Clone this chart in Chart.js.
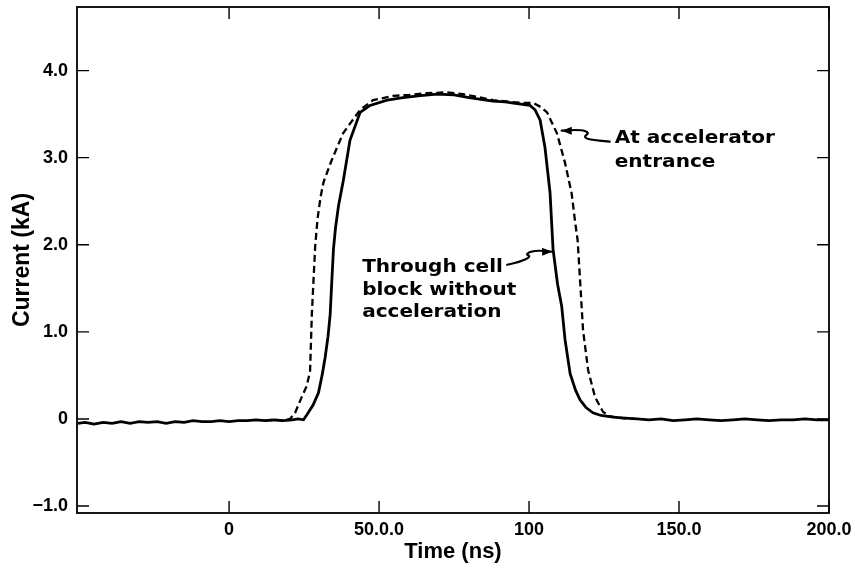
<!DOCTYPE html>
<html>
<head>
<meta charset="utf-8">
<script src="https://cdn.jsdelivr.net/npm/chart.js@4.4.1/dist/chart.umd.min.js"></script>
<style>
  html, body { margin: 0; padding: 0; background: #ffffff; }
  #wrap { width: 855px; height: 575px; }
</style>
</head>
<body>
<div id="wrap"><canvas id="c" width="855" height="575"></canvas></div>
<script>
// ---- data ----
const xTicks = [0, 50, 100, 150, 200];
const xTickLabels = ['0', '50.0.0', '100', '150.0', '200.0'];
const yTicks = [-1, 0, 1, 2, 3, 4];
const yTickLabels = ['\u22121.0', '0', '1.0', '2.0', '3.0', '4.0'];

const solidLabel = 'Through cell block without acceleration';
const solidTime = [-50.5,-48,-45,-42,-39,-36,-33,-30,-27,-24,-21,-18,-15,-12,-9,-6,-3,0,3,6,9,12,15,18,21,23,
  24.8,26,28,29.8,31,32,33,33.7,34.2,34.8,35.5,36.5,38.1,40.3,43.7,47,52.7,58,63,69.3,75,80,84,88,92,96,100.3,
  102,103.7,105.3,107,108,109.5,110.9,112,113.7,115.5,117,119,121.3,124,128,132,
  136,140,144,148,152,156,160,164,168,172,176,180,184,188,192,196,200];
const solidCurrent = [-0.05,-0.04,-0.06,-0.04,-0.05,-0.03,-0.05,-0.03,-0.04,-0.03,-0.05,-0.03,-0.04,-0.02,-0.03,-0.03,-0.02,-0.03,-0.02,-0.02,-0.01,-0.02,-0.01,-0.02,-0.01,0.0,
  -0.01,0.05,0.16,0.3,0.5,0.7,0.95,1.2,1.55,1.95,2.2,2.45,2.74,3.2,3.52,3.6,3.66,3.69,3.71,3.73,3.72,3.69,3.67,3.65,3.64,3.62,3.6,
  3.55,3.43,3.12,2.6,1.95,1.55,1.29,0.91,0.52,0.33,0.22,0.13,0.07,0.04,0.02,0.01,
  0.0,-0.01,0.0,-0.02,-0.01,0.0,-0.01,-0.02,-0.01,0.0,-0.01,-0.02,-0.01,-0.01,0.0,-0.01,-0.01];

const dashedLabel = 'At accelerator entrance';
const dashedTime = [12,15,18,20.3,22,24.2,25.9,27,27.6,28.7,29.5,30.5,31.5,34.2,38,43.7,48,54.7,60,66,
  72.7,78,84,88,94,98,101.3,104,106,109.3,112,114.2,115.3,116.2,117,118,119.7,122,124.7,127,131,135];
const dashedCurrent = [-0.02,-0.01,-0.02,0.0,0.07,0.25,0.38,0.55,1.21,1.98,2.3,2.55,2.72,2.97,3.28,3.55,3.66,3.71,3.72,3.74,
  3.75,3.73,3.69,3.66,3.64,3.63,3.63,3.58,3.52,3.28,2.94,2.59,2.28,2.05,1.6,1.02,0.56,0.25,0.08,0.03,0.01,0.0];

// ---- styling / layout ----
const FONT = '"Liberation Sans", Arial, Helvetica, sans-serif';
const ANN_FONT = 'bold 17px "DejaVu Sans", sans-serif';
const toPts = (xs, ys) => xs.map((x, i) => ({ x: x, y: ys[i] }));

// annotation text + squiggle arrows (anchored to data coordinates of the arrow tip)
const annotations = [
  { lines: ['At accelerator', 'entrance'], tip: [110.9, 3.31], textDx: 53, textDy: 8, lineGap: 24,
    path: [[0,0],[18,-1.5],[28,2],[22,6],[27,9],[48,11]], dir: -1 },
  { lines: ['Through cell', 'block without', 'acceleration'], tip: [107.7, 1.92], textDx: -190, textDy: 16, lineGap: 22.5,
    path: [[0,0],[-15,-2],[-27,2],[-21,5],[-32,10],[-45,13]], dir: 1 }
];

function smoothPath(ctx, pts) {
  ctx.moveTo(pts[0][0], pts[0][1]);
  for (let i = 1; i < pts.length - 1; i++) {
    const mx = (pts[i][0] + pts[i + 1][0]) / 2, my = (pts[i][1] + pts[i + 1][1]) / 2;
    ctx.quadraticCurveTo(pts[i][0], pts[i][1], mx, my);
  }
  const last = pts[pts.length - 1];
  ctx.lineTo(last[0], last[1]);
}

const framePlugin = {
  id: 'frame',
  afterDatasetsDraw(chart) {
    const { ctx, chartArea: a, scales } = chart;
    ctx.save();
    ctx.strokeStyle = '#000';
    ctx.lineWidth = 1.8;
    ctx.strokeRect(a.left, a.top, a.right - a.left, a.bottom - a.top);
    ctx.lineWidth = 1.4;
    const TL = 12;
    ctx.beginPath();
    xTicks.forEach(v => {
      const p = scales.x.getPixelForValue(v);
      ctx.moveTo(p, a.bottom); ctx.lineTo(p, a.bottom - TL);
      ctx.moveTo(p, a.top); ctx.lineTo(p, a.top + TL);
    });
    yTicks.forEach(v => {
      const p = scales.y.getPixelForValue(v);
      ctx.moveTo(a.left, p); ctx.lineTo(a.left + TL, p);
      ctx.moveTo(a.right, p); ctx.lineTo(a.right - TL, p);
    });
    ctx.stroke();

    // annotations
    ctx.fillStyle = '#000';
    annotations.forEach(an => {
      const tx = scales.x.getPixelForValue(an.tip[0]);
      const ty = scales.y.getPixelForValue(an.tip[1]);
      ctx.lineWidth = 2.2;
      ctx.lineJoin = 'round';
      ctx.lineCap = 'round';
      ctx.beginPath();
      smoothPath(ctx, an.path.map(p => [tx + p[0], ty + p[1]]));
      ctx.stroke();
      // arrowhead
      const d = an.dir === -1 ? 1 : -1;
      ctx.beginPath();
      ctx.moveTo(tx, ty);
      ctx.lineTo(tx + d * 10, ty - 4);
      ctx.lineTo(tx + d * 10, ty + 4);
      ctx.closePath();
      ctx.fill();
      ctx.font = ANN_FONT;
      ctx.textBaseline = 'middle';
      ctx.textAlign = 'left';
      an.lines.forEach((s, i) => {
        ctx.save();
        ctx.translate(tx + an.textDx, ty + an.textDy + i * an.lineGap);
        ctx.scale(1.18, 1);
        ctx.fillText(s, 0, 0);
        ctx.restore();
      });
    });
    ctx.restore();
  }
};

new Chart(document.getElementById('c'), {
  type: 'line',
  data: {
    datasets: [
      { label: solidLabel, data: toPts(solidTime, solidCurrent), borderColor: '#000', borderWidth: 2.8,
        pointRadius: 0, tension: 0, fill: false },
      { label: dashedLabel, data: toPts(dashedTime, dashedCurrent), borderColor: '#000', borderWidth: 2.3,
        borderDash: [7, 4], pointRadius: 0, tension: 0, fill: false }
    ]
  },
  options: {
    responsive: false,
    animation: false,
    devicePixelRatio: 1,
    parsing: false,
    layout: { padding: { top: 7, right: 26, bottom: 0, left: 0 } },
    plugins: { legend: { display: false }, tooltip: { enabled: false } },
    scales: {
      x: {
        type: 'linear', min: -50.7, max: 200,
        grid: { display: false, drawTicks: false },
        border: { display: false },
        afterBuildTicks: s => { s.ticks = xTicks.map(v => ({ value: v })); },
        afterFit: s => { s.height = 62; s.paddingLeft = 0; s.paddingRight = 0; },
        ticks: { color: '#000', padding: 6, maxRotation: 0, autoSkip: false,
          font: { family: FONT, size: 18, weight: 'bold', lineHeight: 1.2 },
          callback: (v, i) => xTickLabels[i] },
        title: { display: true, text: 'Time (ns)', color: '#000',
          font: { family: FONT, size: 22, weight: 'bold', lineHeight: 1.2 },
          padding: { top: 0, bottom: 10 } }
      },
      y: {
        type: 'linear', min: -1.08, max: 4.73,
        grid: { display: false, drawTicks: false },
        border: { display: false },
        afterBuildTicks: s => { s.ticks = yTicks.map(v => ({ value: v })); },
        afterFit: s => { s.width = 77; s.paddingTop = 0; s.paddingBottom = 0; },
        ticks: { color: '#000', padding: 9,
          font: { family: FONT, size: 18, weight: 'bold', lineHeight: 1.2 },
          callback: (v, i) => yTickLabels[i] },
        title: { display: true, text: 'Current (kA)', color: '#000',
          font: { family: FONT, size: 23, weight: 'bold', lineHeight: 1.2 },
          padding: { top: 9, bottom: 0 } }
      }
    }
  },
  plugins: [framePlugin]
});
</script>
</body>
</html>
